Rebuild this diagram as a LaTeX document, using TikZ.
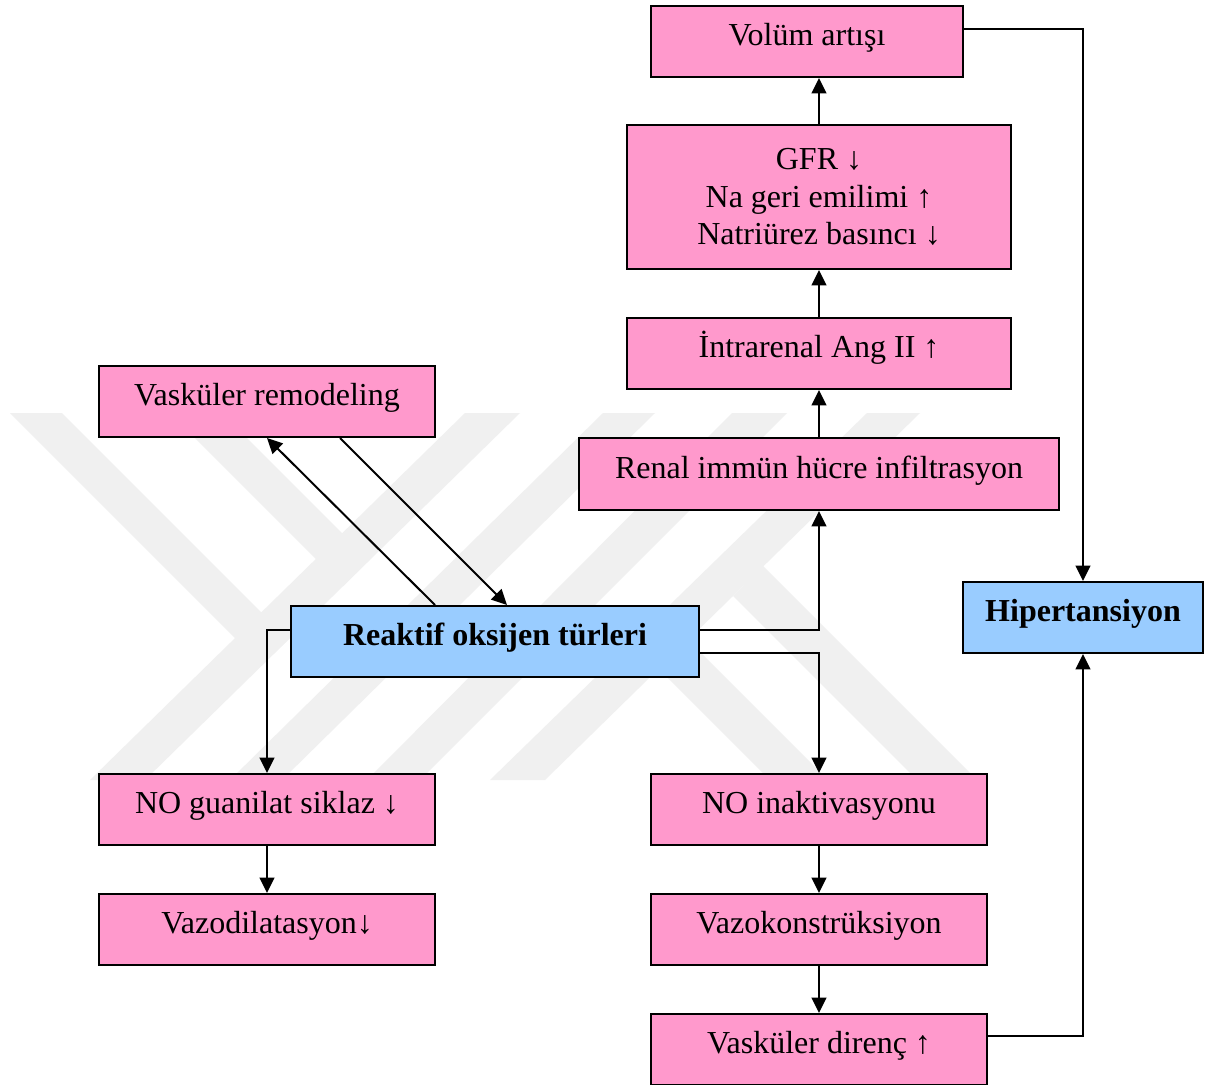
\documentclass[tikz,border=0pt]{standalone}
\usepackage{fontspec}
\setmainfont{Liberation Serif}
\usetikzlibrary{arrows.meta}
\definecolor{pinkc}{RGB}{255,153,204}
\definecolor{bluec}{RGB}{153,204,255}
\definecolor{wm}{RGB}{240,240,240}
\begin{document}
\begin{tikzpicture}[x=0.75pt,y=-0.75pt,
  basebox/.style={draw=black, line width=1.5pt, fill=pinkc, inner sep=0pt, align=center,
    font=\fontsize{24}{28}\selectfont},
  box/.style={basebox, text height=12pt, text depth=6pt},
  bbox/.style={box, fill=bluec, font=\fontsize{24}{28}\selectfont\bfseries},
  arr/.style={line width=1.5pt, -{Triangle[length=11.5pt,width=11pt]}},
  wmark/.style={fill=wm, draw=none}]
\useasboundingbox (0,0) rectangle (1214,1085);
\fill[white] (0,0) rectangle (1214,1085);
% watermark
\fill[wmark] (465,413) -- (520,413) -- (145,780) -- (90,780) -- cycle;
\fill[wmark] (603,413) -- (655,413) -- (282,780) -- (230,780) -- cycle;
\fill[wmark] (732,413) -- (787,413) -- (420,780) -- (367,780) -- cycle;
\fill[wmark] (867,413) -- (920,413) -- (545,780) -- (490,780) -- cycle;
\fill[wmark] (10,413) -- (62,413) -- (288.5,639.5) -- (262,665) -- cycle;
\fill[wmark] (170,413) -- (222,413) -- (369,560) -- (343,586) -- cycle;
\fill[wmark] (733,596) -- (763,566) -- (977,780) -- (917,780) -- cycle;
\fill[wmark] (659,669) -- (688,640) -- (828,780) -- (770,780) -- cycle;
% nodes
\node[box, minimum width=234pt, minimum height=53.25pt] (vol) at (807,41.5) {Volüm artışı};
\node[basebox, minimum width=288pt, minimum height=108pt] (gfr) at (819,197) {GFR ↓\\Na geri emilimi ↑\\ Natriürez basıncı ↓};
\node[box, minimum width=288pt, minimum height=53.25pt] (ang) at (819,353.5) {İntrarenal Ang II ↑};
\node[box, minimum width=360pt, minimum height=54pt] (ren) at (819,474) {Renal immün hücre infiltrasyon};
\node[box, minimum width=252pt, minimum height=53.25pt] (vr) at (267,401.5) {Vasküler remodeling};
\node[bbox, minimum width=306pt, minimum height=53.25pt] (ros) at (495,641.5) {Reaktif oksijen türleri};
\node[bbox, minimum width=180pt, minimum height=53.25pt] (hip) at (1083,617.5) {Hipertansiyon};
\node[box, minimum width=252pt, minimum height=53.25pt] (nog) at (267,809.5) {NO guanilat siklaz ↓};
\node[box, minimum width=252pt, minimum height=53.25pt] (vd) at (267,929.5) {Vazodilatasyon↓};
\node[box, minimum width=252pt, minimum height=53.25pt] (noi) at (819,809.5) {NO inaktivasyonu};
\node[box, minimum width=252pt, minimum height=53.25pt] (vk) at (819,929.5) {Vazokonstrüksiyon};
\node[box, minimum width=252pt, minimum height=53.25pt] (vdr) at (819,1049.5) {Vasküler direnç ↑};
% connectors
\draw[arr] (gfr.north) -- (gfr.north |- vol.south);
\draw[arr] (ang.north) -- (gfr.south);
\draw[arr] (ren.north) -- (ang.south);
\draw[arr] ([yshift=8.6pt]ros.east) -| (ren.south);
\draw[arr] ([yshift=-8.6pt]ros.east) -| (noi.north);
\draw[arr] ([yshift=8.6pt]ros.west) -| (nog.north);
\draw[arr] (nog.south) -- (vd.north);
\draw[arr] (noi.south) -- (vk.north);
\draw[arr] (vk.south) -- (vdr.north);
\draw[arr] ([yshift=10.1pt]vdr.east) -| (hip.south);
\draw[arr] ([yshift=9.4pt]vol.east) -| (hip.north);
\draw[arr] ([xshift=-45pt]ros.north) -- (vr.south);
\draw[arr] ([xshift=54.75pt]vr.south) -- ([xshift=9pt]ros.north);
\end{tikzpicture}
\end{document}
